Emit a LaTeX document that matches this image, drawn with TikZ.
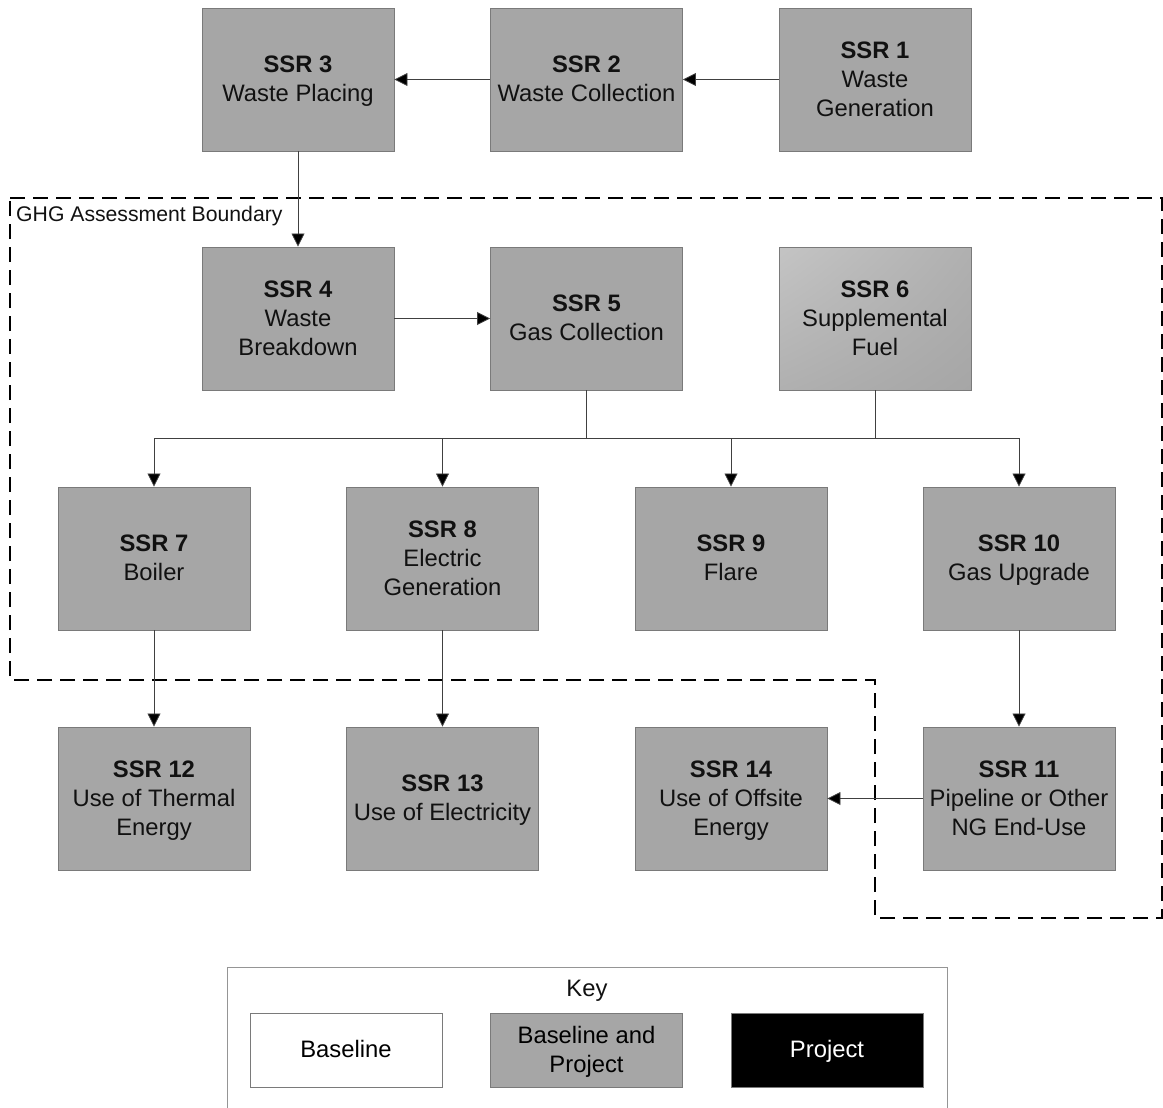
\documentclass[tikz,border=0pt]{standalone}
\usepackage{fontspec}
\setmainfont{Liberation Sans}
\usetikzlibrary{arrows.meta,shadings}
\definecolor{boxfill}{HTML}{A6A6A6}
\definecolor{boxline}{HTML}{7A7A7A}
\definecolor{conn}{HTML}{404040}
\definecolor{txt}{HTML}{111111}
\definecolor{shadeA}{HTML}{C4C4C4}
\definecolor{shadeB}{HTML}{B0B0B0}
\newcommand{\topS}{\rule{0pt}{24.6pt}}
\begin{document}
\begin{tikzpicture}[x=1pt,y=-1pt,
  ssr/.style={draw=boxline, line width=0.9pt, fill=boxfill, minimum width=192pt, minimum height=143pt,
    inner sep=0pt, align=center, text=txt, font=\fontsize{23.8}{29}\selectfont},
  keybox/.style={draw=boxline, line width=0.9pt, minimum width=192pt, minimum height=74pt,
    inner sep=0pt, align=center, font=\fontsize{23.8}{29}\selectfont},
  conn/.style={draw=conn, line width=0.8pt},
  arr/.style={conn, -{Triangle[length=13pt,width=13pt,fill=black]}},
  boundary/.style={draw=black, line width=1.6pt, dash pattern=on 15pt off 8pt}
]
\useasboundingbox (0,0) rectangle (1163,1108);

% boundary
\draw[boundary] (10,198) -- (1162,198) -- (1162,918) -- (875,918) -- (875,680) -- (10,680) -- cycle;
\node[anchor=west, inner sep=0pt, text=txt, font=\fontsize{21.2}{24}\selectfont] (ghg) at (16,216.5) {GHG Assessment Boundary};

% row 1
\node[ssr] (s3) at (298,79.5) {\topS\textbf{SSR 3}\\Waste Placing\strut};
\node[ssr] (s2) at (586.5,79.5) {\topS\textbf{SSR 2}\\Waste Collection\strut};
\node[ssr] (s1) at (875,79.5) {\topS\textbf{SSR 1}\\Waste\\Generation\strut};
% row 2
\node[ssr] (s4) at (298,318.5) {\topS\textbf{SSR 4}\\Waste\\Breakdown\strut};
\node[ssr] (s5) at (586.5,318.5) {\topS\textbf{SSR 5}\\Gas Collection\strut};
\node[ssr, upper left=shadeA, upper right=shadeB, lower left=shadeB, lower right=boxfill] (s6) at (875,318.5) {\topS\textbf{SSR 6}\\Supplemental\\Fuel\strut};
% row 3
\node[ssr] (s7) at (154,558.5) {\topS\textbf{SSR 7}\\Boiler\strut};
\node[ssr] (s8) at (442.5,558.5) {\topS\textbf{SSR 8}\\Electric\\Generation\strut};
\node[ssr] (s9) at (731,558.5) {\topS\textbf{SSR 9}\\Flare\strut};
\node[ssr] (s10) at (1019,558.5) {\topS\textbf{SSR 10}\\Gas Upgrade\strut};
% row 4
\node[ssr] (s12) at (154,798.5) {\topS\textbf{SSR 12}\\Use of Thermal\\Energy\strut};
\node[ssr] (s13) at (442.5,798.5) {\topS\textbf{SSR 13}\\Use of Electricity\strut};
\node[ssr] (s14) at (731,798.5) {\topS\textbf{SSR 14}\\Use of Offsite\\Energy\strut};
\node[ssr] (s11) at (1019,798.5) {\topS\textbf{SSR 11}\\Pipeline or Other\\NG End-Use\strut};

% connectors
\draw[arr] (s1.west) -- (s2.east);
\draw[arr] (s2.west) -- (s3.east);
\draw[arr] (s3.south) -- (s4.north);
\draw[arr] (s4.east) -- (s5.west);
\coordinate (bus) at (0,438);
\draw[conn] (s5.south) -- (s5.south |- bus);
\draw[conn] (s6.south) -- (s6.south |- bus);
\draw[conn] (s7.north |- bus) -- (s10.north |- bus);
\draw[arr] (s7.north |- bus) -- (s7.north);
\draw[arr] (s8.north |- bus) -- (s8.north);
\draw[arr] (s9.north |- bus) -- (s9.north);
\draw[arr] (s10.north |- bus) -- (s10.north);
\draw[arr] (s7.south) -- (s12.north);
\draw[arr] (s8.south) -- (s13.north);
\draw[arr] (s10.south) -- (s11.north);
\draw[arr] (s11.west) -- (s14.east);

% key
\draw[draw=boxline!80, line width=0.9pt] (227,1108) -- (227,967) -- (947,967) -- (947,1108);
\node[text=txt, inner sep=0pt, font=\fontsize{23.8}{29}\selectfont] (keyt) at (587,991) {Key};
\node[keybox, fill=white] (kb) at (346,1050) {\topS Baseline\strut};
\node[keybox, fill=boxfill] (kbp) at (586.5,1050) {\topS Baseline and\\Project\strut};
\node[keybox, fill=black, text=white] (kp) at (827,1050) {\topS Project\strut};
\end{tikzpicture}
\end{document}
